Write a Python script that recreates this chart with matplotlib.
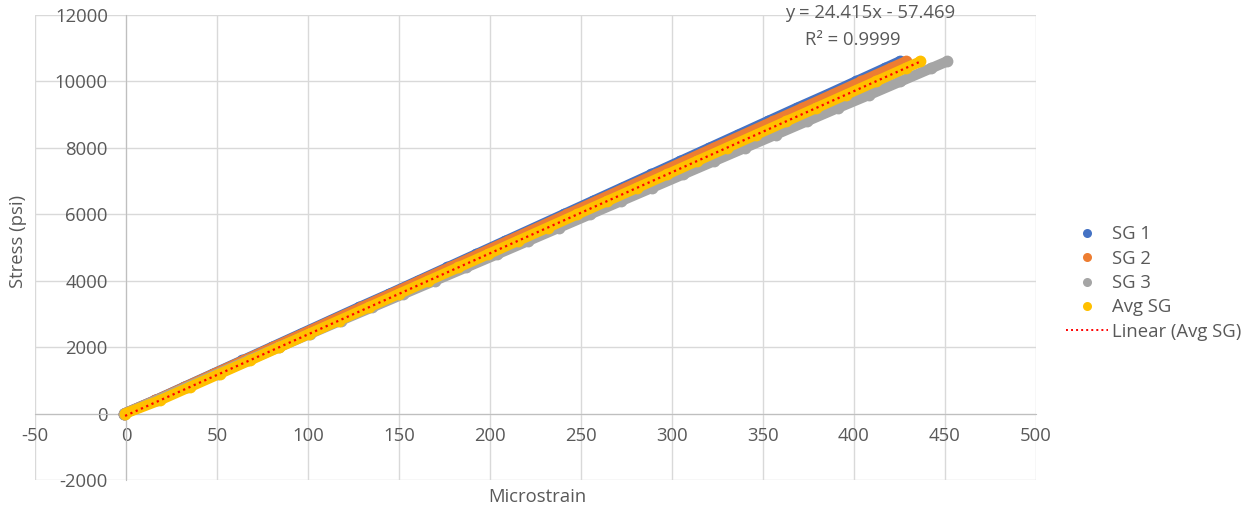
import matplotlib
matplotlib.use("Agg")
import matplotlib.pyplot as plt
from matplotlib.lines import Line2D

# Load steps (psi) shared by all gauges
stress = [0, 400, 800, 1200, 1600, 2000, 2400, 2800, 3200, 3600, 4000, 4400, 4800,
          5200, 5600, 6000, 6400, 6800, 7200, 7600, 8000, 8400, 8800, 9200, 9600,
          10000, 10400, 10600]

# Measured microstrain for each gauge at those load steps
sg1 = [-1.0, 16.0, 32.0, 48.0, 64.0, 80.0, 96.0, 112.0, 128.0, 144.5, 160.5, 176.5,
       192.5, 208.5, 224.5, 240.5, 256.5, 272.5, 288.5, 304.5, 320.5, 336.5, 352.5,
       368.5, 385.0, 401.0, 417.0, 425.0]
sg2 = [-1.0, 16.2, 32.3, 48.5, 64.6, 80.8, 97.0, 113.0, 129.3, 145.5, 161.6, 177.8,
       194.0, 210.0, 226.3, 242.4, 258.6, 274.7, 291.0, 307.0, 323.0, 339.4, 355.5,
       371.7, 387.9, 404.0, 420.2, 428.3]
sg3 = [-1.0, 16.8, 33.5, 50.3, 67.0, 84.0, 101.0, 118.0, 135.2, 152.4, 169.6, 186.8,
       204.0, 221.0, 238.0, 255.0, 272.0, 289.0, 306.0, 323.0, 340.0, 357.0, 374.0,
       391.0, 408.5, 425.5, 442.5, 451.0]
avg_sg = [-0.5, 18.5, 35.0, 51.5, 68.0, 84.3, 100.6, 117.0, 133.4, 149.8, 166.2,
          182.6, 199.0, 215.3, 231.7, 248.0, 264.5, 280.9, 297.3, 313.6, 330.0, 346.4,
          362.8, 379.2, 395.6, 412.0, 428.3, 436.5]

# Linear trendline of the average gauge
slope = 24.415
intercept = -57.469
r_squared = 0.9999

x_ticks = [-50, 0, 50, 100, 150, 200, 250, 300, 350, 400, 450, 500]
y_ticks = [-2000, 0, 2000, 4000, 6000, 8000, 10000, 12000]

series = [("SG 1", sg1, "#4472C4"), ("SG 2", sg2, "#ED7D31"),
          ("SG 3", sg3, "#A5A5A5"), ("Avg SG", avg_sg, "#FFC000")]

plt.rcParams["font.family"] = ["Open Sans", "DejaVu Sans"]
plt.rcParams["axes.unicode_minus"] = False
text_color = "#595959"
grid_color = "#D9D9D9"
fs = 13.3

fig = plt.figure(figsize=(12.6, 5.14), dpi=100)
ax = fig.add_axes([35 / 1260, 1 - 480 / 514, (1036 - 35) / 1260, (480 - 15) / 514])

for name, vals, col in series:
    ax.plot(vals, stress, color=col, linewidth=7.5, solid_capstyle="round",
            marker="o", markersize=8.5, markeredgewidth=0, zorder=3)

x0, x1 = min(avg_sg), max(avg_sg)
ax.plot([x0, x1], [slope * x0 + intercept, slope * x1 + intercept],
        color="#FF0000", linestyle=(0, (1, 1.6)), linewidth=1.6, zorder=4)

ax.set_xlim(-50, 500)
ax.set_ylim(-2000, 12000)
ax.set_xticks(x_ticks)
ax.set_yticks(y_ticks)
ax.grid(True, color=grid_color, linewidth=1.0, zorder=0)
ax.set_axisbelow(True)

for side in ("top", "right"):
    ax.spines[side].set_visible(False)
ax.spines["bottom"].set_position(("data", 0))
ax.spines["left"].set_position(("data", 0))
ax.spines["bottom"].set_color("#BFBFBF")
ax.spines["left"].set_color("#BFBFBF")
ax.tick_params(axis="both", length=0, labelsize=fs, labelcolor=text_color)
ax.tick_params(axis="x", pad=10)
ax.tick_params(axis="y", pad=13)

fig.text(18 / 1260, 1 - 241 / 514, "Stress (psi)", rotation=90, ha="center",
         va="center", fontsize=fs, color=text_color)
fig.text(537 / 1260, 1 - 497 / 514, "Microstrain", ha="center", va="center",
         fontsize=fs, color=text_color)

fig.text(870 / 1260, 1 - 13 / 514, f"y = {slope}x - {abs(intercept)}", ha="center",
         va="center", fontsize=fs, color=text_color)
fig.text(853 / 1260, 1 - 40 / 514, f"R² = {r_squared}", ha="center",
         va="center", fontsize=fs, color=text_color)

handles = [Line2D([], [], linestyle="none", marker="o", markersize=6.5,
                  markeredgewidth=0, color=col) for _, _, col in series]
handles.append(Line2D([], [], color="#FF0000", linestyle=(0, (1, 1.6)), linewidth=1.4))
labels = [s[0] for s in series] + ["Linear (Avg SG)"]
fig.legend(handles, labels, loc="center left", bbox_to_anchor=(1066 / 1260, 1 - 283 / 514),
           frameon=False, fontsize=fs, labelcolor=text_color, handlelength=2.3,
           handletextpad=0.2, labelspacing=0.35, borderpad=0, borderaxespad=0)

fig.savefig("out.png", dpi=100, facecolor="white")
